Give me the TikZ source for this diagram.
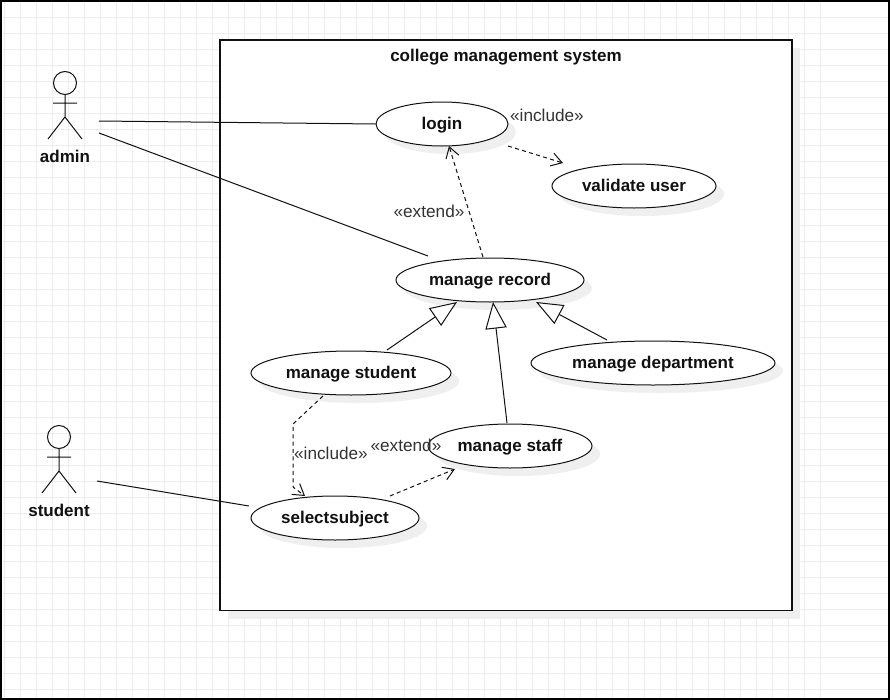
\documentclass[tikz,border=0pt]{standalone}
\usepackage{fontspec}
\setmainfont{Liberation Sans}
\usetikzlibrary{arrows.meta,shapes.geometric,shadows}
\definecolor{Ink}{HTML}{111111}
\definecolor{Muted}{HTML}{333333}
\definecolor{Grid}{HTML}{EDEDED}
\definecolor{Shade}{HTML}{EFEFEF}
\tikzset{
  x=0.75pt,y=-0.75pt,
  softshadow/.style={general shadow={fill=Shade,shadow xshift=6pt,shadow yshift=-6pt}},
  usecase/.style={shape=ellipse,draw=Ink,fill=white,softshadow,line width=0.75pt,inner sep=0pt,minimum height=33pt,text height=9.5pt,text depth=1.2pt,font=\fontsize{12.75pt}{15pt}\selectfont\bfseries,text=Ink},
  actorname/.style={font=\fontsize{12.75pt}{15pt}\selectfont\bfseries,text=Ink,inner sep=0pt},
  stereo/.style={font=\fontsize{12.9pt}{15pt}\selectfont,text=Muted,inner sep=0pt},
  assoc/.style={draw=Ink,line width=0.75pt},
  depend/.style={-{Straight Barb[length=8pt,width=10pt]},draw=Ink,line width=0.75pt,dash pattern=on 3pt off 2.5pt},
  general/.style={-{Triangle[length=20pt,width=16pt,fill=white]},draw=Ink,line width=0.75pt},
  actor/.pic={
    \draw[assoc,line cap=round] (0,0) circle (11.5);
    \draw[assoc] (0,11.5) -- (0,34) (-12,20) -- (12,20) (-17,56) -- (0,34) -- (17,56);
  }
}
\begin{document}
\begin{tikzpicture}
  \useasboundingbox (0,0) rectangle (890,700);
  \fill[white] (0,0) rectangle (890,700);
  % paper grid
  \foreach \gx in {4,...,55} \draw[Grid,line width=0.75pt] (4.5+16*\gx-64,0) -- (4.5+16*\gx-64,700);
  \foreach \gy in {0,...,43} \draw[Grid,line width=0.75pt] (0,1+16*\gy) -- (890,1+16*\gy);
  \draw[black,line width=1.5pt] (1,1) rectangle (889,699);

  \node[draw=Ink,fill=white,softshadow,line width=0.85pt,minimum width=429pt,minimum height=428pt,inner sep=0pt] (system) at (506,325.3) {};
  \node[font=\fontsize{12.75pt}{15pt}\selectfont\bfseries,text=Ink,inner sep=0pt] (title) at (506,56.7) {college management system};

  \pic at (65,83) {actor};
  \node[actorname] (admin) at (65,156) {admin};
  \pic at (59,437) {actor};
  \node[actorname] (student) at (59,510) {student};

  \node[usecase,minimum width=99pt] (login) at (442,124) {login};
  \node[usecase,minimum width=123pt] (validate) at (634,186) {validate user};
  \node[usecase,minimum width=141pt] (record) at (490,280) {manage record};
  \node[usecase,minimum width=150pt] (mstudent) at (351,373) {manage student};
  \node[usecase,minimum width=183pt] (department) at (653,363) {manage department};
  \node[usecase,minimum width=123pt] (staff) at (510,446) {manage staff};
  \node[usecase,minimum width=126pt] (subject) at (335,518) {selectsubject};

  \draw[assoc] ([shift={(34,-35)}]admin.center) -- (login.west);
  \draw[assoc] ([shift={(34,-23)}]admin.center) -- ([shift={(-62,-24)}]record.center);
  \draw[assoc] ([shift={(38,-29)}]student.center) -- ([shift={(-86,-12)}]subject.center);

  \draw[depend] ([shift={(-7,-23)}]record.center) -- ([shift={(7,22)}]login.center);
  \draw[depend] ([shift={(66,22)}]login.center) -- ([shift={(-71,-23)}]validate.center);
  \draw[depend] ([shift={(-28,23)}]mstudent.center) -- ([shift={(-58,51)}]mstudent.center) -- ([shift={(-42,-31)}]subject.center) -- ([shift={(-30,-22)}]subject.center);
  \draw[depend] ([shift={(55,-22)}]subject.center) -- ([shift={(-55,23)}]staff.center);

  \draw[general] ([shift={(36,-23)}]mstudent.center) -- ([shift={(-33,22)}]record.center);
  \draw[general] ([shift={(-3,-23)}]staff.center) -- ([shift={(3,22)}]record.center);
  \draw[general] ([shift={(-46,-23)}]department.center) -- ([shift={(46,22)}]record.center);

  \node[stereo] (inclogin) at (547,115) {«include»};
  \node[stereo] (extlogin) at (429,211) {«extend»};
  \node[stereo] (incsubject) at (331,453) {«include»};
  \node[stereo] (extstaff) at (406,445) {«extend»};
\end{tikzpicture}
\end{document}
